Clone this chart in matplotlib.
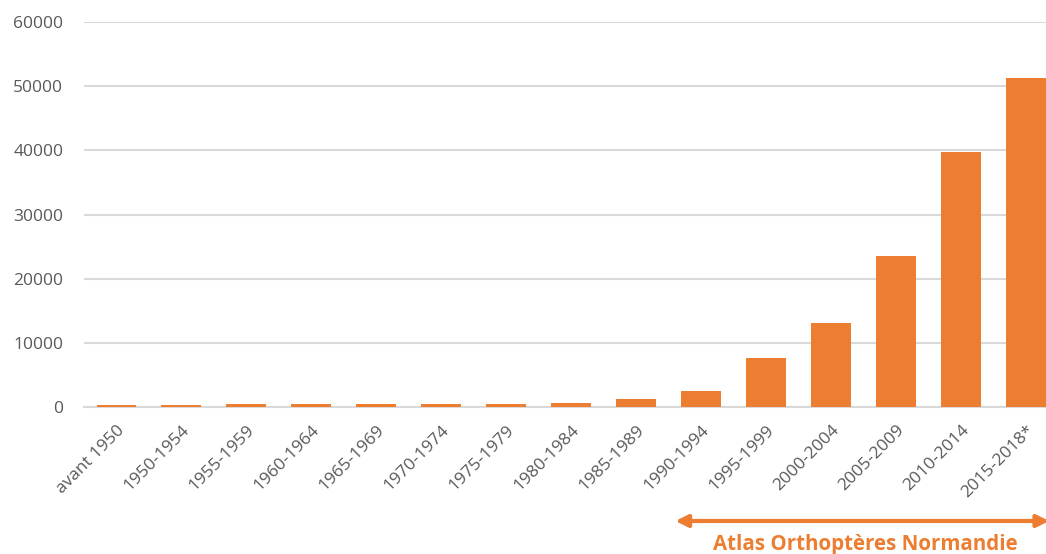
import matplotlib.pyplot as plt
import numpy as np

periods = ["avant 1950", "1950-1954", "1955-1959", "1960-1964", "1965-1969",
           "1970-1974", "1975-1979", "1980-1984", "1985-1989", "1990-1994",
           "1995-1999", "2000-2004", "2005-2009", "2010-2014", "2015-2018*"]
counts = [300, 250, 400, 400, 400, 400, 500, 700, 1300, 2500,
          7650, 13100, 23500, 39800, 51300]
yticks = [0, 10000, 20000, 30000, 40000, 50000, 60000]

ORANGE = "#ED7D31"
GREY = "#595959"

plt.rcParams['font.family'] = ['Open Sans', 'DejaVu Sans']

fig = plt.figure(figsize=(10.46, 5.54), dpi=100)
ax = fig.add_axes([0.0803, 0.2653, 0.932, 0.695])

x = np.arange(len(periods))
ax.bar(x, counts, width=0.615, color=ORANGE, zorder=3)

ax.set_xlim(-0.5, len(periods) - 0.5)
ax.set_ylim(0, 60000)
ax.set_yticks(yticks)
ax.set_yticklabels([str(v) for v in yticks], color=GREY, fontsize=12.5)
ax.yaxis.grid(True, color="#d9d9d9", linewidth=1.5, zorder=0)
ax.tick_params(axis='y', length=0, pad=15)
ax.tick_params(axis='x', length=0, pad=11)
for s in ["top", "right", "left"]:
    ax.spines[s].set_visible(False)
ax.spines["bottom"].set_color("#d9d9d9")
ax.spines["bottom"].set_linewidth(1.5)

ax.set_xticks(x)
ax.set_xticklabels(periods, rotation=45, ha='right', rotation_mode='anchor',
                   color=GREY, fontsize=12.5)

# Atlas period arrow
trans = ax.get_xaxis_transform()
ax.annotate("", xy=(8.6, -0.296), xytext=(14.35, -0.296),
            xycoords=trans, textcoords=trans,
            arrowprops=dict(arrowstyle="<|-|>", color=ORANGE, lw=3,
                            mutation_scale=18, shrinkA=0, shrinkB=0),
            annotation_clip=False)
ax.text(11.52, -0.358, "Atlas Orthoptères Normandie", transform=trans,
        ha='center', va='center', color=ORANGE, fontsize=14.8,
        fontweight='bold', clip_on=False)

fig.savefig("out.png", dpi=100)
